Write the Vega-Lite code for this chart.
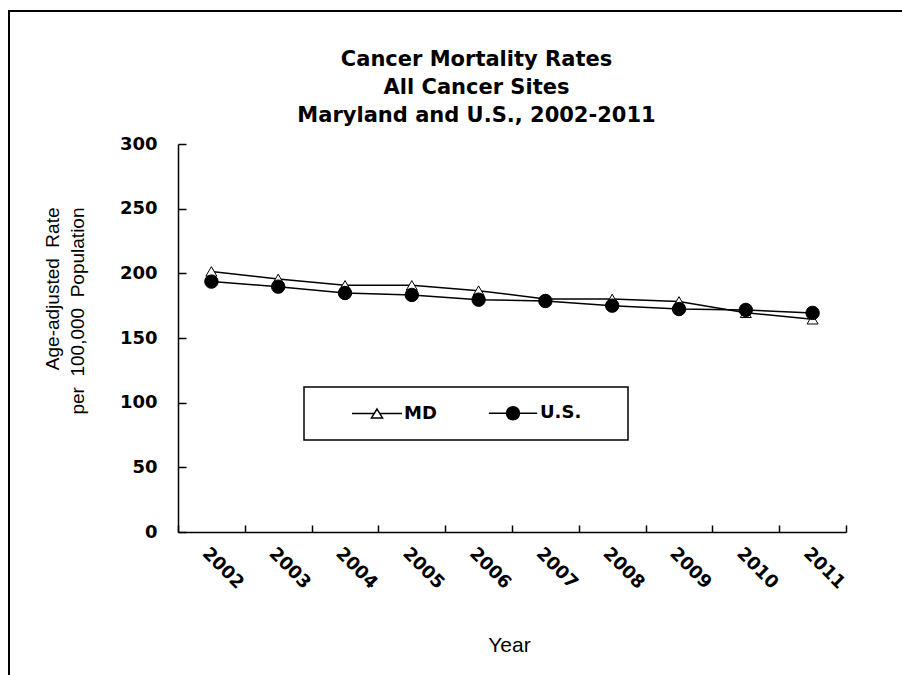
{
  "$schema": "https://vega.github.io/schema/vega-lite/v6.json",
  "autosize": "none",
  "width": 893,
  "height": 664,
  "padding": {"left": 9, "top": 11, "right": 0, "bottom": 0},
  "background": "white",
  "title": {
    "text": ["Cancer Mortality Rates", "All Cancer Sites", "Maryland and U.S., 2002-2011"],
    "font": "DejaVu Sans",
    "fontSize": 21,
    "fontWeight": "bold",
    "color": "black",
    "lineHeight": 28,
    "anchor": "middle",
    "offset": 0,
    "dx": 21,
    "dy": 115
  },
  "data": {
    "values": [
      {"year": "2002", "series": "MD", "rate": 201.5},
      {"year": "2003", "series": "MD", "rate": 195.7},
      {"year": "2004", "series": "MD", "rate": 190.7},
      {"year": "2005", "series": "MD", "rate": 190.7},
      {"year": "2006", "series": "MD", "rate": 186.6},
      {"year": "2007", "series": "MD", "rate": 180.2},
      {"year": "2008", "series": "MD", "rate": 180.2},
      {"year": "2009", "series": "MD", "rate": 178.3},
      {"year": "2010", "series": "MD", "rate": 169.5},
      {"year": "2011", "series": "MD", "rate": 164.5},
      {"year": "2002", "series": "U.S.", "rate": 193.6},
      {"year": "2003", "series": "U.S.", "rate": 189.7},
      {"year": "2004", "series": "U.S.", "rate": 184.8},
      {"year": "2005", "series": "U.S.", "rate": 183.3},
      {"year": "2006", "series": "U.S.", "rate": 179.6},
      {"year": "2007", "series": "U.S.", "rate": 178.6},
      {"year": "2008", "series": "U.S.", "rate": 175.0},
      {"year": "2009", "series": "U.S.", "rate": 172.4},
      {"year": "2010", "series": "U.S.", "rate": 171.7},
      {"year": "2011", "series": "U.S.", "rate": 169.4}
    ]
  },
  "layer": [
    {
      "mark": {"type": "line", "color": "black", "strokeWidth": 1.5},
      "encoding": {
        "x": {
          "field": "year",
          "type": "ordinal",
          "scale": {"type": "band", "paddingInner": 0, "paddingOuter": 0, "range": [169, 837]},
          "axis": {
            "orient": "bottom",
            "offset": -143,
            "title": "Year",
            "titleFont": "Liberation Sans",
            "titleFontSize": 21,
            "titleFontWeight": "normal",
            "titleColor": "black",
            "titleBaseline": "alphabetic",
            "titleX": 500,
            "titleY": 119,
            "ticks": false,
            "tickSize": 0,
            "domainColor": "black",
            "domainWidth": 1.5,
            "labelAngle": 45,
            "labelAlign": "left",
            "labelBaseline": "top",
            "labelFont": "DejaVu Sans",
            "labelFontSize": 18,
            "labelFontWeight": "bold",
            "labelColor": "black",
            "labelPadding": 12,
            "grid": false
          }
        },
        "y": {
          "field": "rate",
          "type": "quantitative",
          "scale": {"domain": [0, 300], "nice": false, "zero": true, "range": [521, 133]},
          "axis": {
            "orient": "left",
            "offset": -169,
            "values": [0, 50, 100, 150, 200, 250, 300],
            "title": ["Age-adjusted\u00a0\u00a0Rate", "per\u00a0\u00a0100,000\u00a0\u00a0Population"],
            "titleFont": "Liberation Sans",
            "titleFontSize": 19,
            "titleFontWeight": "normal",
            "titleColor": "black",
            "titleAngle": -90,
            "titleAlign": "right",
            "titleBaseline": "alphabetic",
            "titleLineHeight": 25,
            "titleX": -120,
            "titleY": 196,
            "ticks": false,
            "tickSize": 0,
            "domainColor": "black",
            "domainWidth": 1.5,
            "labelFont": "DejaVu Sans",
            "labelFontSize": 18,
            "labelFontWeight": "bold",
            "labelColor": "black",
            "labelPadding": 21,
            "grid": false
          }
        },
        "detail": {"field": "series"}
      }
    },
    {
      "transform": [{"filter": "datum.series === 'MD'"}],
      "mark": {"type": "point", "shape": "triangle-up", "filled": true, "fill": "white", "stroke": "black", "strokeWidth": 1, "size": 121, "opacity": 1},
      "encoding": {
        "x": {
          "field": "year",
          "type": "ordinal",
          "axis": {
            "orient": "top",
            "offset": -521,
            "title": null,
            "labels": false,
            "domain": false,
            "grid": false,
            "tickBand": "extent",
            "tickSize": 7,
            "tickColor": "black",
            "tickWidth": 1.5
          }
        },
        "y": {
          "field": "rate",
          "type": "quantitative",
          "axis": {
            "orient": "right",
            "offset": -724,
            "values": [0, 50, 100, 150, 200, 250, 300],
            "title": null,
            "labels": false,
            "domain": false,
            "grid": false,
            "tickSize": 8,
            "tickColor": "black",
            "tickWidth": 1.5
          }
        }
      }
    },
    {
      "transform": [{"filter": "datum.series === 'U.S.'"}],
      "mark": {"type": "point", "shape": "circle", "filled": true, "fill": "black", "stroke": "black", "strokeWidth": 1, "size": 180, "opacity": 1},
      "encoding": {
        "x": {"field": "year", "type": "ordinal", "axis": null},
        "y": {"field": "rate", "type": "quantitative", "axis": null}
      }
    },
    {
      "mark": {"type": "point", "filled": true, "stroke": "black", "strokeWidth": 1.5, "opacity": 0},
      "encoding": {
        "x": {"field": "year", "type": "ordinal", "axis": null},
        "y": {"field": "rate", "type": "quantitative", "axis": null},
        "shape": {
          "field": "series",
          "type": "nominal",
          "scale": {
            "domain": ["MD", "U.S."],
            "range": [
              "M-3.57,0L-0.4,0M0.4,0L3.57,0M0,-0.64L0.79,0.64L-0.79,0.64Z",
              "M-3.45,0L-0.93,0M0.93,0L3.45,0M0.93,0A0.93,0.93 0 1 1 -0.93,0A0.93,0.93 0 1 1 0.93,0Z"
            ]
          },
          "legend": {
            "orient": "none",
            "legendX": 295,
            "legendY": 376,
            "direction": "horizontal",
            "title": "\u00a0",
            "titleOrient": "right",
            "titlePadding": 30,
            "titleFont": "DejaVu Sans",
            "titleFontSize": 18,
            "padding": 17,
            "strokeColor": "black",
            "symbolSize": 196,
            "symbolOffset": 47,
            "symbolOpacity": 1,
            "labelOffset": 18,
            "columnPadding": 20,
            "labelFont": "DejaVu Sans",
            "labelFontSize": 18,
            "labelFontWeight": "bold",
            "labelColor": "black",
            "symbolStrokeColor": "black",
            "symbolStrokeWidth": 1.5,
            "encoding": {
              "symbols": {
                "stroke": {"value": "black"},
                "strokeWidth": {"value": 1.5},
                "opacity": {"value": 1}
              },
              "legend": {"strokeWidth": {"value": 1.5}}
            }
          }
        },
        "fill": {
          "field": "series",
          "type": "nominal",
          "scale": {"domain": ["MD", "U.S."], "range": ["white", "black"]},
          "legend": {
            "orient": "none",
            "legendX": 295,
            "legendY": 376,
            "direction": "horizontal",
            "title": "\u00a0",
            "titleOrient": "right",
            "titlePadding": 30,
            "titleFont": "DejaVu Sans",
            "titleFontSize": 18,
            "padding": 17,
            "strokeColor": "black",
            "symbolSize": 196,
            "symbolOffset": 47,
            "symbolOpacity": 1,
            "labelOffset": 18,
            "columnPadding": 20,
            "labelFont": "DejaVu Sans",
            "labelFontSize": 18,
            "labelFontWeight": "bold",
            "labelColor": "black",
            "symbolStrokeColor": "black",
            "symbolStrokeWidth": 1.5,
            "encoding": {
              "symbols": {
                "stroke": {"value": "black"},
                "strokeWidth": {"value": 1.5},
                "opacity": {"value": 1}
              },
              "legend": {"strokeWidth": {"value": 1.5}}
            }
          }
        }
      }
    }
  ],
  "resolve": {
    "scale": {"x": "shared", "y": "shared"},
    "axis": {"x": "independent", "y": "independent"}
  },
  "config": {
    "view": {
      "stroke": "black",
      "strokeWidth": 2,
      "strokeDash": [893, 1557, 664]
    }
  }
}
